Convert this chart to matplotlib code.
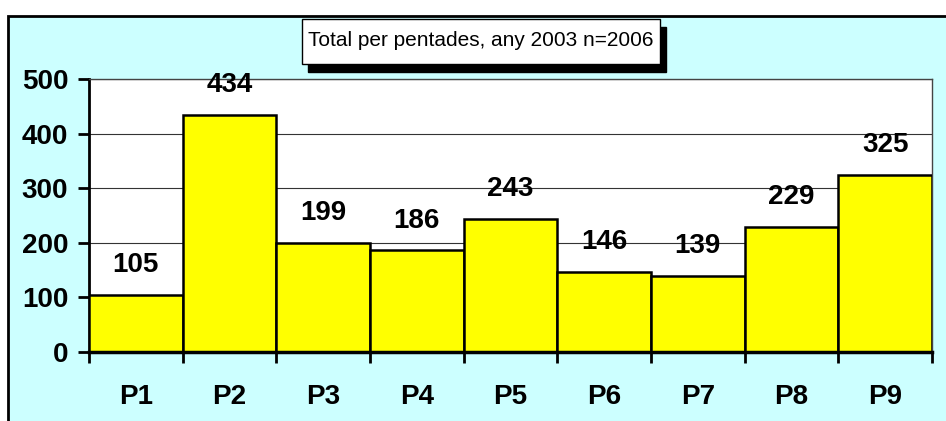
import matplotlib.pyplot as plt
from matplotlib.patches import Rectangle

categories = ["P1", "P2", "P3", "P4", "P5", "P6", "P7", "P8", "P9"]
totals = [105, 434, 199, 186, 243, 146, 139, 229, 325]
title = "Total per pentades, any 2003 n=2006"

plt.rcParams["font.family"] = ["Liberation Sans", "DejaVu Sans"]

fig = plt.figure(figsize=(9.46, 4.21), dpi=100)
fig.patch.set_facecolor("white")

# outer chart frame (cut off on the right and bottom like the original)
fig.patches.append(
    Rectangle((8 / 946, -0.05), 1.1, (421 - 16) / 421 + 0.05,
              transform=fig.transFigure, facecolor="#CCFFFF",
              edgecolor="black", linewidth=2, zorder=-5)
)

ax = fig.add_axes([89 / 946, (421 - 352) / 421, (932 - 89) / 946, (352 - 79) / 421])
ax.set_facecolor("white")

x = list(range(1, len(categories) + 1))
ax.bar(x, totals, width=1.0, color="#FFFF00", edgecolor="black", linewidth=1.8, zorder=3)

for xi, v in zip(x, totals):
    ax.annotate(str(v), (xi, v), xytext=(0, 16.5), textcoords="offset points",
                ha="center", va="baseline", fontsize=20, fontweight="bold", zorder=4)

ax.set_xlim(0.5, len(categories) + 0.5)
ax.set_ylim(0, 500)
ax.set_yticks(range(0, 501, 100))
ax.yaxis.grid(True, color="#333333", linewidth=0.8, zorder=0)

ax.set_xticks([i + 0.5 for i in range(len(categories) + 1)])
ax.set_xticklabels([])
ax.set_xticks(x, minor=True)
ax.set_xticklabels(categories, minor=True)
ax.tick_params(axis="x", which="major", direction="out", length=8, width=2)
ax.tick_params(axis="x", which="minor", length=0, pad=23, labelsize=20)
ax.tick_params(axis="y", direction="out", length=8, width=2, pad=7, labelsize=20)
for lbl in ax.get_xticklabels(minor=True) + ax.get_yticklabels():
    lbl.set_fontweight("bold")

ax.spines["left"].set_linewidth(2)
ax.spines["bottom"].set_linewidth(2.5)
ax.spines["bottom"].set_zorder(5)
for s in ["top", "right"]:
    ax.spines[s].set_color("#444444")
    ax.spines[s].set_linewidth(1)

# title box with drop shadow
fig.patches.append(Rectangle((308 / 946, (421 - 72) / 421), 358 / 946, 45 / 421,
                             transform=fig.transFigure, facecolor="black",
                             edgecolor="black", zorder=1))
fig.patches.append(Rectangle((302 / 946, (421 - 64) / 421), 358 / 946, 45 / 421,
                             transform=fig.transFigure, facecolor="white",
                             edgecolor="black", linewidth=1, zorder=2))
fig.text(481 / 946, (421 - 41) / 421, title, ha="center", va="center",
         fontsize=15, zorder=3)

fig.savefig("out.png", dpi=100)
